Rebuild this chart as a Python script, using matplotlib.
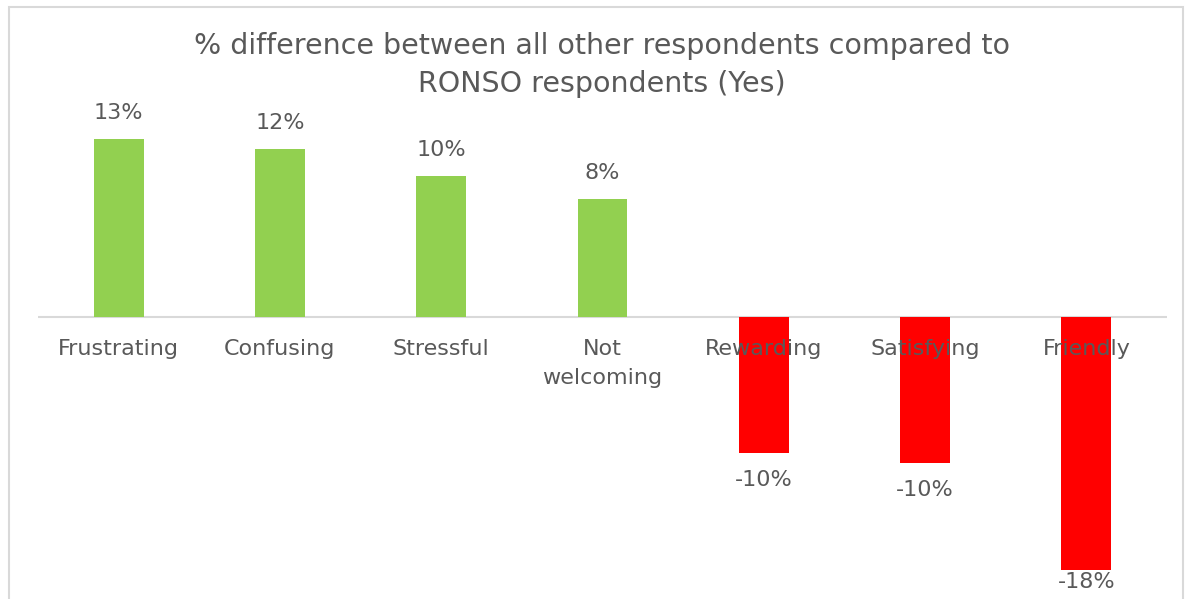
import matplotlib.pyplot as plt
from matplotlib.patches import Rectangle

# Survey results: difference in % answering "Yes"
categories = ["Frustrating", "Confusing", "Stressful", "Not\nwelcoming",
              "Rewarding", "Satisfying", "Friendly"]
differences = [12.7, 12.0, 10.1, 8.4, -9.7, -10.4, -18.1]

GREEN = "#92D050"
RED = "#FF0000"
TEXT = "#595959"
GRID = "#D9D9D9"

plt.rcParams['font.family'] = ['DejaVu Sans']

W, H, DPI = 1190, 599, 100
PX_PER_PCT = 14
fig = plt.figure(figsize=(W / DPI, H / DPI), dpi=DPI)

# light frame around the chart area
fig.patches.append(Rectangle((9 / W, -0.05), 1174 / W, 1.05 - 7 / H,
                             transform=fig.transFigure, fill=False,
                             edgecolor=GRID, linewidth=1.5))

ax = fig.add_axes([38 / W, 0, 1129 / W, 1])
ax.set_xlim(-0.5, len(categories) - 0.5)
ax.set_ylim(-282 / PX_PER_PCT, 317 / PX_PER_PCT)
ax.axis('off')

colors = [GREEN if v >= 0 else RED for v in differences]
x = range(len(categories))
ax.bar(x, differences, width=0.31, color=colors, zorder=2)
ax.axhline(0, color=GRID, linewidth=1.5, zorder=1)

# value labels; negative ones are kept inside the plot floor
floor = -265 / PX_PER_PCT
for i, v in enumerate(differences):
    if v >= 0:
        y = v + 26 / PX_PER_PCT
    else:
        y = max(v - 27 / PX_PER_PCT, floor)
    ax.text(i, y, f"{v:.0f}%", ha='center', va='center',
            fontsize=16, color=TEXT, zorder=3)

# category labels sit just under the zero line
for i, name in enumerate(categories):
    ax.annotate(name, (i, 0), xytext=(0, -22), textcoords='offset pixels',
                ha='center', va='top', fontsize=16, color=TEXT,
                linespacing=1.55, zorder=3)

fig.text(602 / W, 1 - 65 / H,
         "% difference between all other respondents compared to\nRONSO respondents (Yes)",
         ha='center', va='center', fontsize=20.5, color=TEXT, linespacing=1.42)

fig.savefig("out.png", dpi=DPI)
